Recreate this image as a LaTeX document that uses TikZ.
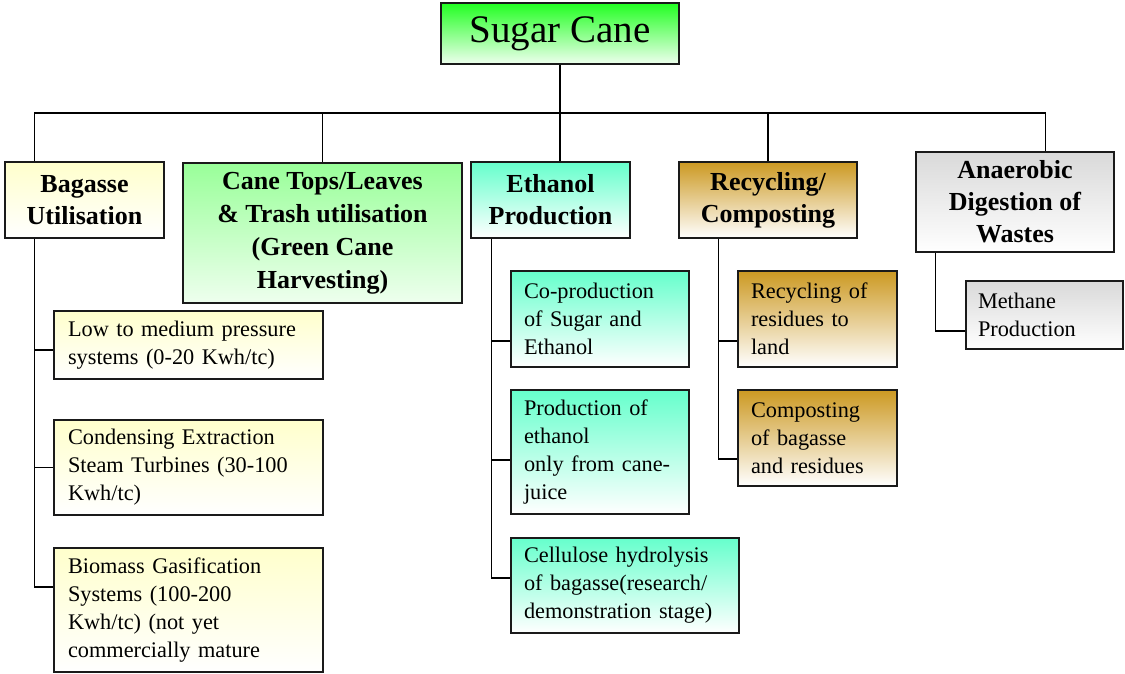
\documentclass[tikz,border=0pt]{standalone}
\usepackage{fontspec}
\setmainfont{Liberation Serif}
\definecolor{scgreen}{HTML}{22FF22}
\definecolor{scpale}{HTML}{EEFFEE}
\definecolor{bagY}{HTML}{FFFFCC}
\definecolor{caneG}{HTML}{99FF99}
\definecolor{ethA}{HTML}{66FFCC}
\definecolor{recG}{HTML}{CC9922}
\definecolor{anG}{HTML}{D9D9D9}
\definecolor{edge}{HTML}{1A1A1A}
\tikzset{
  box/.style={draw=edge, line width=1.2pt, rectangle, inner sep=0pt},
  head/.style={box, align=center, font=\fontsize{26}{32}\selectfont\bfseries},
  leaf/.style={box, align=left, font=\fontsize{22.3}{28}\selectfont},
  conn/.style={line width=1.4pt, black},
  bagS/.style={top color=bagY, bottom color=white},
  caneS/.style={top color=caneG, bottom color=scpale},
  ethS/.style={top color=ethA, bottom color=white},
  recS/.style={top color=recG, bottom color=white},
  anS/.style={top color=anG, bottom color=white},
}
\begin{document}
\begin{tikzpicture}[x=1pt,y=-1pt]
\useasboundingbox (0,0) rectangle (1125,674);
% root
\node[box, top color=scgreen, bottom color=scpale, minimum width=238, minimum height=61,
  font=\fontsize{39}{44}\selectfont] (sc) at (560,33.5) {Sugar Cane};
% headers
\node[head, bagS, minimum width=159, minimum height=76] (bag) at (84.5,200) {Bagasse\\Utilisation};
\node[head, caneS, minimum width=279, minimum height=140, font=\fontsize{26}{33}\selectfont\bfseries] (cane) at (322.5,233) {Cane Tops/Leaves\\\& Trash utilisation\\(Green Cane\\Harvesting)};
\node[head, ethS, minimum width=159, minimum height=76] (eth) at (550.5,200) {Ethanol\\Production};
\node[head, recS, minimum width=178, minimum height=76] (rec) at (768,200) {Recycling/\\Composting};
\node[head, anS, minimum width=198, minimum height=100] (an) at (1015,202) {Anaerobic\\Digestion of\\Wastes};
% bagasse leaves
\node[leaf, bagS, minimum width=269, minimum height=68, text width=241] (b1) at (188.5,345) {Low to medium pressure\\systems (0-20 Kwh/tc)};
\node[leaf, bagS, minimum width=269, minimum height=95, text width=241] (b2) at (188.5,467.5) {Condensing Extraction\\Steam Turbines (30-100\\Kwh/tc)};
\node[leaf, bagS, minimum width=269, minimum height=124, text width=241] (b3) at (188.5,610) {Biomass Gasification\\Systems (100-200\\Kwh/tc) (not yet\\commercially mature};
% ethanol leaves
\node[leaf, ethS, minimum width=178, minimum height=96, text width=152] (e1) at (600,319) {Co-production\\of Sugar and\\Ethanol};
\node[leaf, ethS, minimum width=178, minimum height=124, text width=152] (e2) at (600,452) {Production of\\ethanol\\only from cane-\\juice};
\node[leaf, ethS, minimum width=228, minimum height=95, text width=202] (e3) at (625,585.5) {Cellulose hydrolysis\\of bagasse(research/\\demonstration stage)};
% recycling leaves
\node[leaf, recS, minimum width=159, minimum height=96, text width=133] (r1) at (817.5,319) {Recycling of\\residues to\\land};
\node[leaf, recS, minimum width=159, minimum height=96, text width=133] (r2) at (817.5,438) {Composting\\of bagasse\\and residues};
% anaerobic leaf
\node[leaf, anS, minimum width=157, minimum height=68, text width=133] (m1) at (1044.5,315) {Methane\\Production};
% top connectors
\coordinate (busy) at (0,113);
\draw[conn] (sc.south) -- (sc.south |- eth.north);
\draw[conn] ([xshift=30]bag.north west) -- ([xshift=30]bag.north west |- busy)
  -- ([xshift=130]an.north west |- busy) -- ([xshift=130]an.north west);
\draw[conn] (cane.north) -- (cane.north |- busy);
\draw[conn] (rec.north) -- (rec.north |- busy);
% bagasse tree
\draw[conn] ([xshift=30]bag.south west) |- ([yshift=23]b3.west);
\draw[conn] ([xshift=30,yshift=-5]bag.south west |- b1.west) -- ([yshift=-5]b1.west);
\draw[conn] ([xshift=30]bag.south west |- b2.west) -- (b2.west);
% ethanol tree
\draw[conn] ([xshift=21]eth.south west) |- ([yshift=7.5]e3.west);
\draw[conn] ([xshift=21,yshift=-22]eth.south west |- e1.west) -- ([yshift=-22]e1.west);
\draw[conn] ([xshift=21,yshift=-8]eth.south west |- e2.west) -- ([yshift=-8]e2.west);
% recycling tree
\draw[conn] ([xshift=40]rec.south west) |- ([yshift=-21]r2.west);
\draw[conn] ([xshift=40,yshift=-22]rec.south west |- r1.west) -- ([yshift=-22]r1.west);
% anaerobic tree
\draw[conn] ([xshift=20]an.south west) |- ([yshift=-16]m1.west);
\end{tikzpicture}
\end{document}
